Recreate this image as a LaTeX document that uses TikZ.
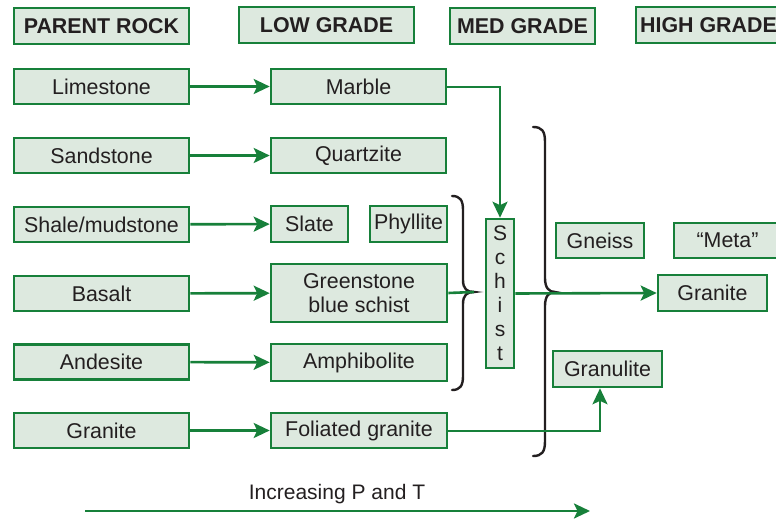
\documentclass[tikz,border=0pt]{standalone}
\usepackage{fontspec}
\setmainfont{Liberation Sans}
\usetikzlibrary{arrows.meta}
\definecolor{rgreen}{HTML}{17803A}
\definecolor{rfill}{HTML}{DDE9DF}
\definecolor{rtext}{HTML}{231F20}
\tikzset{
  rbox/.style={draw=rgreen, fill=rfill, line width=2.6pt, inner sep=0pt,
    text=rtext, font=\fontsize{21.4}{24}\selectfont, align=center},
  hbox/.style={rbox, font=\fontsize{21.4}{24}\selectfont\bfseries},
  conn/.style={draw=rgreen, line width=2.6pt},
  arr/.style={conn, -{Stealth[length=16pt,width=15pt,inset=3.5pt]}},
  brace/.style={draw=rtext, line width=2.4pt, line cap=round}
}
\begin{document}
\begin{tikzpicture}[x=1pt,y=-1pt]
\useasboundingbox (0,0) rectangle (776,521);
% headers
\node[hbox, minimum width=175pt, minimum height=36pt] (pr) at (101.5,26) {PARENT ROCK};
\node[hbox, minimum width=175pt, minimum height=36pt] (lg) at (326.5,25) {LOW GRADE};
\node[hbox, minimum width=145pt, minimum height=36pt] (mg) at (522.5,26) {MED GRADE};
\node[hbox, minimum width=145pt, minimum height=36pt] (hg) at (708.5,25) {HIGH GRADE};
% parent rocks
\node[rbox, minimum width=175pt, minimum height=35pt] (lime) at (101.5,86.5) {Limestone};
\node[rbox, minimum width=175pt, minimum height=35pt] (sand) at (101.5,155.5) {Sandstone};
\node[rbox, minimum width=175pt, minimum height=35pt] (shale) at (101.5,224.5) {Shale/mudstone};
\node[rbox, minimum width=175pt, minimum height=35pt] (basalt) at (101.5,293.5) {Basalt};
\node[rbox, minimum width=175pt, minimum height=35pt] (andes) at (101.5,362) {Andesite};
\node[rbox, minimum width=175pt, minimum height=35pt] (granL) at (101.5,430.5) {Granite};
% low grade
\node[rbox, minimum width=175pt, minimum height=35pt] (marble) at (358.5,86.5) {Marble};
\node[rbox, minimum width=175pt, minimum height=35pt] (quartz) at (358.5,155.5) {Quartzite};
\node[rbox, minimum width=77pt, minimum height=36pt] (slate) at (309.5,224) {Slate};
\node[rbox, minimum width=77pt, minimum height=36pt] (phyl) at (408.5,224) {Phyllite};
\node[rbox, minimum width=176pt, minimum height=58pt] (green) at (359,293) {Greenstone\\blue schist};
\node[rbox, minimum width=176pt, minimum height=37pt] (amph) at (359,362.5) {Amphibolite};
\node[rbox, minimum width=176pt, minimum height=35pt] (folg) at (359,430.5) {Foliated granite};
% medium / high grade
\node[rbox, minimum width=28pt, minimum height=149pt, font=\fontsize{21}{24}\selectfont] (schist) at (500,293.5) {S\\c\\h\\i\\s\\t};
\node[rbox, minimum width=88pt, minimum height=35pt] (gneiss) at (600,240.5) {Gneiss};
\node[rbox, minimum width=107pt, minimum height=35pt] (meta) at (727.5,240.5) {“Meta”};
\node[rbox, minimum width=109pt, minimum height=36pt] (granR) at (712.5,293) {Granite};
\node[rbox, minimum width=109pt, minimum height=36pt] (granu) at (607.5,369) {Granulite};
% braces
\draw[brace] (452,196) .. controls (460,196) and (463,200) .. (463,210)
  -- (463,280) .. controls (463,289) and (467,292) .. (474,292)
  .. controls (467,292) and (463,295) .. (463,304)
  -- (463,376) .. controls (463,386) and (460,390) .. (452,390);
\draw[brace] (533,127) .. controls (542,127) and (545,131) .. (545,142)
  -- (545,278) .. controls (545,288) and (549,292) .. (555,292)
  .. controls (549,292) and (545,296) .. (545,306)
  -- (545,441) .. controls (545,452) and (542,456) .. (533,456);
\coordinate (btip) at (474,292);
\coordinate (mcorner) at (500,87);
\coordinate (fcorner) at (600,431);
% connectors
\draw[arr] (lime) -- (marble);
\draw[arr] (sand) -- (quartz);
\draw[arr] (shale) -- (slate);
\draw[arr] (basalt) -- (green);
\draw[arr] (andes) -- (amph);
\draw[arr] (granL) -- (folg);
\draw[arr] (marble.east |- mcorner) -- (mcorner) -- (mcorner |- schist.north);
\draw[conn] (green.east) -- (btip);
\draw[arr] (schist.east) -- (granR.west);
\draw[arr] (folg.east |- fcorner) -- (fcorner) -- (fcorner |- granu.south);
% P-T arrow
\coordinate (pt1) at (85,511);
\coordinate (pt2) at (590,511);
\draw[arr] (pt1) -- (pt2);
\node[text=rtext, font=\fontsize{21}{24}\selectfont] (ptlab) at (337,494) {Increasing P and T};
\end{tikzpicture}
\end{document}
